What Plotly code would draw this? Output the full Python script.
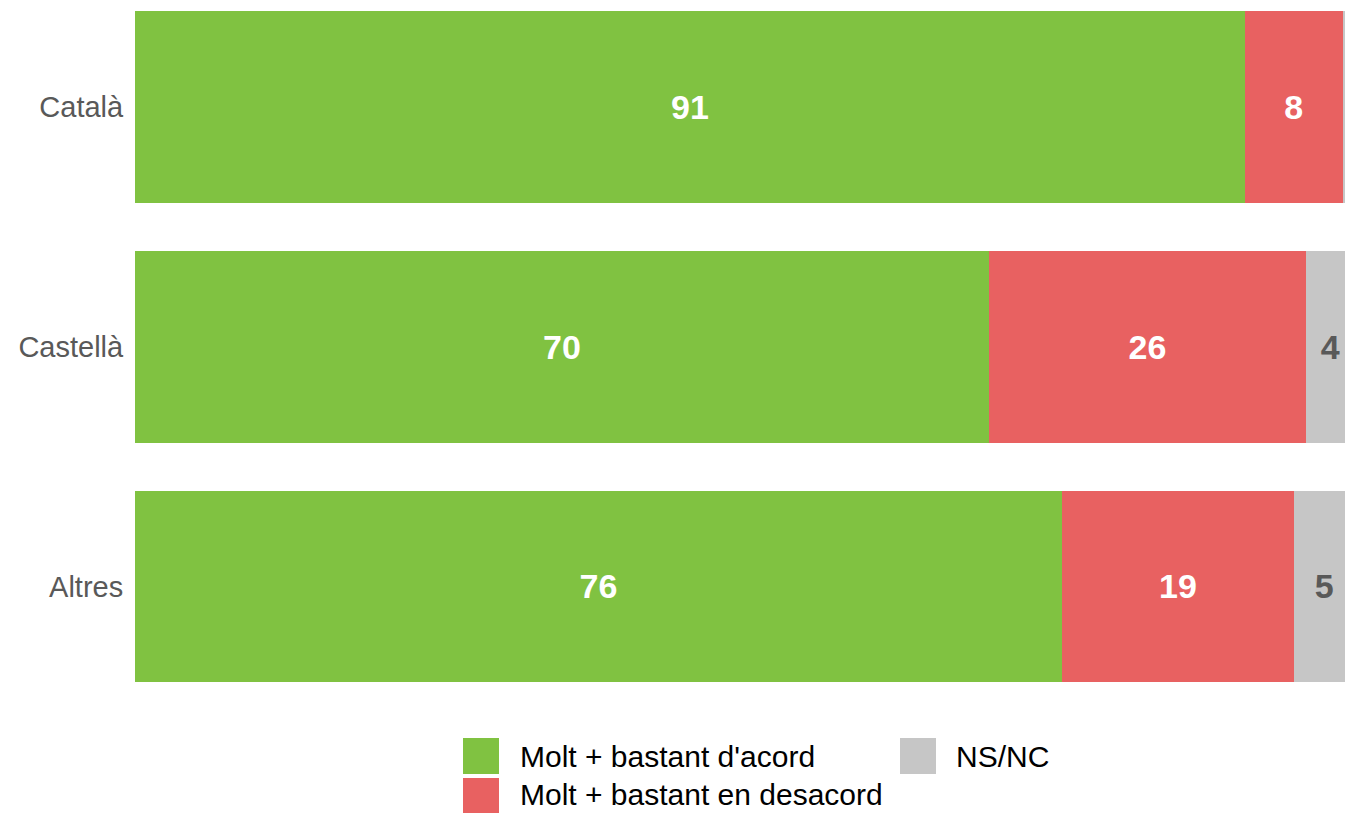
import plotly.graph_objects as go

# Survey shares (%) by language group
categories = ["Català", "Castellà", "Altres"]
acord = [91, 70, 76]
desacord = [8, 26, 19]
nsnc = [1, 4, 5]

series_names = ["Molt + bastant d'acord", "Molt + bastant en desacord", "NS/NC"]
colors = ["#80C241", "#E86161", "#C6C6C6"]
label_colors = ["white", "white", "#595959"]

W, H = 1345, 813
ML, MR, MT, MB = 135, 0, 0, 107

fig = go.Figure()
for name, vals, col, lc in zip(series_names, [acord, desacord, nsnc], colors, label_colors):
    # values too narrow to hold a label stay unlabelled
    txt = [str(v) if v >= 2 else "" for v in vals]
    fig.add_trace(go.Bar(
        y=categories, x=vals, orientation="h", name=name,
        marker=dict(color=col, line=dict(width=0)),
        text=txt, textposition="inside", insidetextanchor="middle",
        textfont=dict(family="Liberation Sans, Arial", size=34, color=lc, weight="bold"),
        constraintext="none", showlegend=False,
    ))

fig.update_layout(
    barmode="stack", bargap=0.2,
    width=W, height=H,
    margin=dict(l=ML, r=MR, t=MT, b=MB, pad=0),
    paper_bgcolor="white", plot_bgcolor="white",
    font=dict(family="Liberation Sans, Arial", size=29, color="#595959"),
    uniformtext=dict(mode=False),
)
fig.update_xaxes(range=[0, 99.2], visible=False, showgrid=False, zeroline=False)
fig.update_yaxes(
    categoryorder="array", categoryarray=categories,
    range=[2.498, -0.444], showgrid=False, zeroline=False, showline=False,
    ticks="outside", ticklen=5, tickcolor="rgba(0,0,0,0)",
    tickfont=dict(size=29, color="#595959"),
)

# Hand-built legend with large square swatches
pw, ph = W - ML - MR, H - MT - MB
def px_x(p):
    return (p - ML) / pw
def px_y(p):
    return (H - MB - p) / ph

legend_items = [
    (series_names[0], colors[0], 463, 738, 518, 756),
    (series_names[1], colors[1], 463, 778, 518, 794),
    (series_names[2], colors[2], 900, 738, 954, 756),
]
for label, col, sx, sy, tx, ty in legend_items:
    fig.add_shape(type="rect", xref="paper", yref="paper",
                  x0=px_x(sx), x1=px_x(sx + 36), y0=px_y(sy), y1=px_y(sy + 36),
                  fillcolor=col, line=dict(width=0), layer="above")
    fig.add_annotation(xref="paper", yref="paper", x=px_x(tx), y=px_y(ty),
                       text=label, showarrow=False, xanchor="left", yanchor="middle",
                       font=dict(size=30, color="black"))

fig.write_html("out.html")
